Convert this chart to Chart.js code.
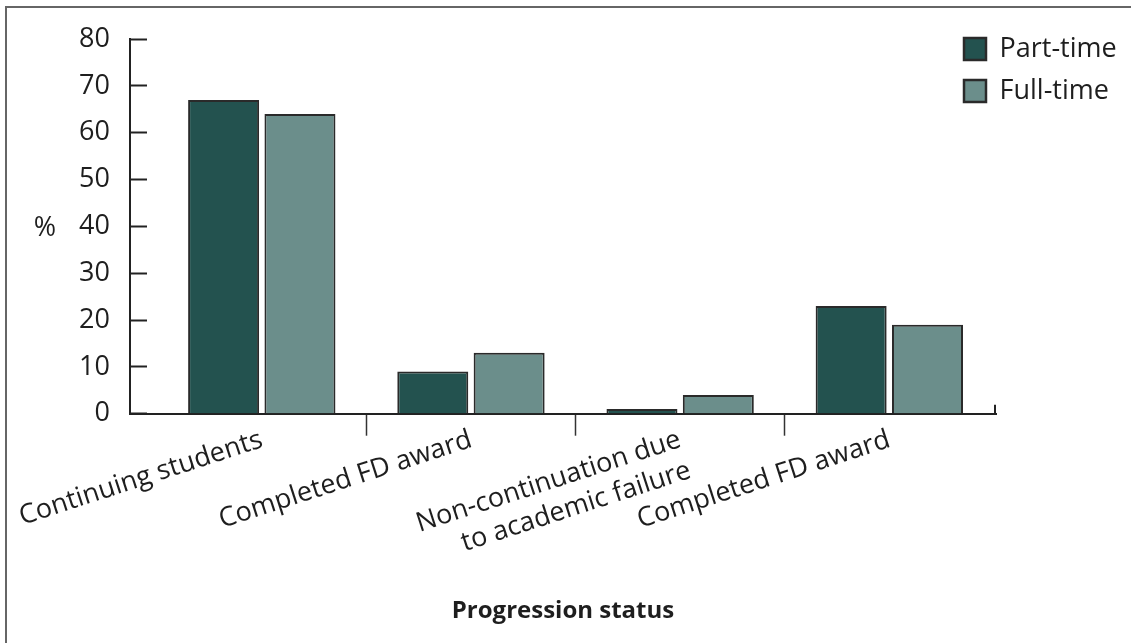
<!DOCTYPE html>
<html>
<head>
<meta charset="utf-8">
<script src="https://cdn.jsdelivr.net/npm/chart.js@4.4.1/dist/chart.umd.min.js"></script>
<style>
  body { margin: 0; background: #fff; overflow: hidden; }
  #frame { position: absolute; left: 5px; top: 6px; width: 1200px; height: 700px;
           border-left: 2px solid #666; border-top: 2px solid #666; }
  #wrap { position: absolute; left: 0; top: 0; width: 1124px; height: 635px; }
</style>
</head>
<body>
<div id="frame"><div id="wrap"><canvas id="myChart"></canvas></div></div>
<script>
// values
const categories = ['Continuing students', 'Completed FD award',
    ['Non-continuation due', 'to academic failure'], 'Completed FD award'];
const partTime = [67, 9, 1, 23];
const fullTime = [64, 13, 4, 19];
const yMin = 0, yMax = 80, yStep = 10;

Chart.defaults.font.family = "'Open Sans', sans-serif";
Chart.defaults.color = '#1e1e1e';

// draws the "%" label and the little end tick on the x axis, moves the legend
const extras = {
    id: 'extras',
    afterLayout(chart) {
        const lg = chart.legend;
        lg.left = 942; lg.top = 12.5;
        lg.right = lg.left + lg.width; lg.bottom = lg.top + lg.height;
    },
    afterDraw(chart) {
        const ctx = chart.ctx, a = chart.chartArea;
        ctx.save();
        ctx.font = "27px 'Open Sans'";
        ctx.fillStyle = '#1e1e1e';
        ctx.textAlign = 'center';
        ctx.textBaseline = 'middle';
        ctx.fillText('%', 38, (a.top + a.bottom) / 2 + 2);
        ctx.strokeStyle = '#222';
        ctx.lineWidth = 2;
        ctx.beginPath();
        ctx.moveTo(a.right - 1, a.bottom);
        ctx.lineTo(a.right - 1, a.bottom - 9);
        ctx.stroke();
        ctx.restore();
    }
};

const ctx = document.getElementById('myChart').getContext('2d');
const chart = new Chart(ctx, {
    type: 'bar',
    data: {
        labels: categories,
        datasets: [{
            label: 'Part-time',
            data: partTime,
            backgroundColor: '#23524f',
            borderColor: '#2a2a2a',
            borderWidth: 2
        }, {
            label: 'Full-time',
            data: fullTime,
            backgroundColor: '#6b8e8b',
            borderColor: '#2a2a2a',
            borderWidth: 2
        }]
    },
    options: {
        responsive: true,
        maintainAspectRatio: false,
        animation: false,
        categoryPercentage: 0.73,
        barPercentage: 0.93,
        layout: { padding: { top: 31, right: 135, bottom: 0, left: 0 } },
        plugins: {
            legend: {
                position: 'chartArea',
                align: 'start',
                labels: {
                    boxWidth: 22,
                    boxHeight: 22,
                    padding: 15,
                    color: '#1e1e1e',
                    font: { size: 27 },
                    generateLabels(c) {
                        const items = Chart.defaults.plugins.legend.labels.generateLabels(c);
                        items.forEach(it => { it.lineWidth = 2.5; });
                        return items;
                    }
                }
            },
            tooltip: { enabled: false }
        },
        scales: {
            x: {
                afterBuildTicks(scale) {
                    // leave room between the y axis and the first group
                    scale._startValue = -0.63;
                    scale._valueRange = 4.14;
                },
                afterFit(scale) { scale.height = 229.3; },
                border: { display: true, color: '#222', width: 2 },
                grid: {
                    drawOnChartArea: false,
                    drawTicks: true,
                    tickLength: 22,
                    tickWidth: 1.5,
                    tickColor: (c) => (c.index >= 1 && c.index <= 3) ? '#333' : 'rgba(0,0,0,0)'
                },
                ticks: {
                    autoSkip: false,
                    minRotation: 18,
                    maxRotation: 18,
                    padding: -12,
                    color: '#1e1e1e',
                    font: { size: 27 }
                },
                title: {
                    display: true,
                    text: 'Progression status',
                    color: '#1e1e1e',
                    font: { size: 24, weight: 'bold' },
                    padding: { top: 0, bottom: 17 }
                }
            },
            y: {
                min: yMin,
                max: yMax,
                afterFit(scale) {
                    scale.width = 123;
                    // tick padding is only there to push labels left of the inward ticks
                    scale.paddingTop = 16;
                    scale.paddingBottom = 16;
                },
                border: { display: true, color: '#222', width: 2 },
                grid: {
                    drawOnChartArea: false,
                    drawTicks: true,
                    tickLength: -17,
                    tickWidth: 2,
                    tickColor: '#222'
                },
                ticks: {
                    stepSize: yStep,
                    padding: 37,
                    color: '#1e1e1e',
                    font: { size: 27 }
                }
            }
        }
    },
    plugins: [extras]
});
</script>
</body>
</html>
